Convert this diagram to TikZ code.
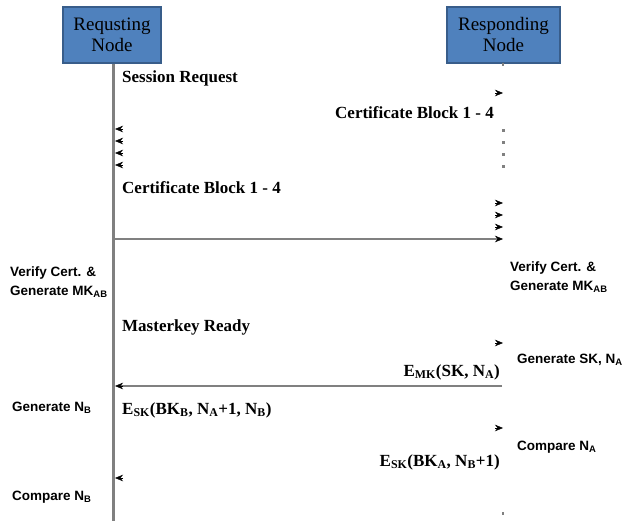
\documentclass[tikz,border=0pt]{standalone}
\usepackage{fontspec}
\setmainfont{Liberation Serif}
\newfontfamily\sidefont{Liberation Sans}
\usetikzlibrary{arrows.meta}

\definecolor{nodeblue}{HTML}{4F81BD}
\definecolor{nodeedge}{HTML}{385D8A}
\definecolor{lifegray}{HTML}{808080}

\tikzset{
  party/.style={draw=nodeedge, fill=nodeblue, line width=1.2pt, align=center,
    inner sep=0pt, minimum height=56pt, font=\fontsize{19}{21}\selectfont},
  msg/.style={inner sep=0pt, font=\bfseries\fontsize{17}{19}\selectfont},
  side/.style={inner sep=0pt, align=left, anchor=west,
    font=\sidefont\bfseries\fontsize{13.5}{19}\selectfont},
  lifeline/.style={draw=lifegray, line width=3pt},
  msgline/.style={draw=lifegray, line width=2.8pt},
  headtip/.style={-{Stealth[length=8pt,width=6.5pt]}, line width=0.4pt},
}

\begin{document}
\begin{tikzpicture}[x=1pt, y=-1pt]
                \useasboundingbox (0,0) rectangle (633,521);

                % the two parties
                \node[party, minimum width=98pt] (req) at (112,35) {Requsting\\Node};
                \node[party, minimum width=113pt] (res) at (503.5,35) {Responding\\Node};

                \coordinate (reqend) at (113,521);
                \draw[lifeline] (req.south -| reqend) -- (reqend);
                \fill[lifegray] (502,63) rectangle (504,66);
                \foreach \y in {129,141,153,165}
                    \fill[lifegray] (502,\y) rectangle +(3,3);

                % session request
                \node[msg, anchor=west] (sreq) at (122,78) {Session Request};
                \coordinate (sreqhd) at (503,93);
                \draw[headtip] ([xshift=-8pt]sreqhd) -- (sreqhd);

                % certificate blocks, responder to requester
                \node[msg, anchor=east] (cbr) at (494,113) {Certificate Block 1 - 4};
                \foreach \y [count=\i] in {129,141,153,165} {
                    \coordinate (cbr\i) at (115,\y);
                    \draw[headtip] ([xshift=8pt]cbr\i) -- (cbr\i);
                }

                % certificate blocks, requester to responder
                \node[msg, anchor=west] (cbq) at (122,188) {Certificate Block 1 - 4};
                \foreach \y [count=\i] in {203,215,227,239} {
                    \coordinate (cbq\i) at (503,\y);
                    \draw[headtip] ([xshift=-8pt]cbq\i) -- (cbq\i);
                }
                \coordinate (cbqstart) at (113,239);
                \draw[msgline] (cbqstart) -- ([xshift=-6pt]cbq4);

                % master key
                \node[side] (vcl) at (10,282) {Verify Cert. \&\\Generate MK\textsubscript{AB}};
                \node[side] (vcr) at (510,277) {Verify Cert. \&\\Generate MK\textsubscript{AB}};
                \node[msg, anchor=west] (mkr) at (122,327) {Masterkey Ready};
                \coordinate (mkrhd) at (503,343);
                \draw[headtip] ([xshift=-8pt]mkrhd) -- (mkrhd);

                % session key
                \node[side] (gsk) at (517,360) {Generate SK, N\textsubscript{A}};
                \node[msg, anchor=east] (emk) at (500,372) {E\textsubscript{MK}(SK, N\textsubscript{A})};
                \coordinate (emkstart) at (502,386);
                \coordinate (emkhd) at (115,386);
                \draw[msgline] (emkstart) -- ([xshift=6pt]emkhd);
                \draw[headtip] ([xshift=8pt]emkhd) -- (emkhd);

                % nonces
                \node[side] (gnb) at (12,408) {Generate N\textsubscript{B}};
                \node[msg, anchor=west] (esb) at (122,410) {E\textsubscript{SK}(BK\textsubscript{B}, N\textsubscript{A}+1, N\textsubscript{B})};
                \coordinate (esbhd) at (503,428);
                \draw[headtip] ([xshift=-8pt]esbhd) -- (esbhd);

                \node[side] (cna) at (517,447) {Compare N\textsubscript{A}};
                \node[msg, anchor=east] (esa) at (500,462) {E\textsubscript{SK}(BK\textsubscript{A}, N\textsubscript{B}+1)};
                \coordinate (esahd) at (115,478);
                \draw[headtip] ([xshift=8pt]esahd) -- (esahd);

                \node[side] (cnb) at (12,497) {Compare N\textsubscript{B}};
                \fill[lifegray] (502,512) rectangle +(2,3);
            \end{tikzpicture}
\end{document}
